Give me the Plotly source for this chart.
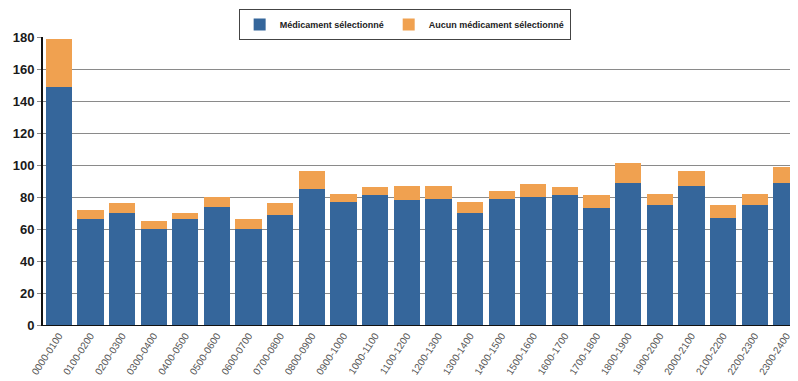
import plotly.graph_objects as go

HOURS = ["0000-0100", "0100-0200", "0200-0300", "0300-0400", "0400-0500", "0500-0600",
         "0600-0700", "0700-0800", "0800-0900", "0900-1000", "1000-1100", "1100-1200",
         "1200-1300", "1300-1400", "1400-1500", "1500-1600", "1600-1700", "1700-1800",
         "1800-1900", "1900-2000", "2000-2100", "2100-2200", "2200-2300", "2300-2400"]

MEDICAMENT = [149, 66, 70, 60, 66, 74, 60, 69, 85, 77, 81, 78,
              79, 70, 79, 80, 81, 73, 89, 75, 87, 67, 75, 89]
AUCUN = [30, 6, 6, 5, 4, 6, 6, 7, 11, 5, 5, 9,
         8, 7, 5, 8, 5, 8, 12, 7, 9, 8, 7, 10]

BLUE = "#35669b"
ORANGE = "#f0a150"

fig = go.Figure()
fig.add_trace(go.Bar(x=HOURS, y=MEDICAMENT, name="Médicament sélectionné",
                     marker=dict(color=BLUE, line=dict(width=0))))
fig.add_trace(go.Bar(x=HOURS, y=AUCUN, name="Aucun médicament sélectionné",
                     marker=dict(color=ORANGE, line=dict(width=0))))

# page body has an 8px margin, so the figure is 8px smaller each way
fig.update_layout(
    barmode="stack",
    bargap=0.17,
    width=790, height=373,
    margin=dict(l=35, r=0, t=29, b=56, autoexpand=False),
    plot_bgcolor="white",
    paper_bgcolor="white",
    font=dict(family="Liberation Sans, Arial, sans-serif", color="#222"),
    legend=dict(orientation="h", traceorder="normal",
                x=0.479, xanchor="center", y=1.097, yanchor="top",
                bordercolor="#444", borderwidth=1,
                font=dict(size=9, color="#222", family="Liberation Sans", weight="bold"),
                itemwidth=30, tracegroupgap=0),
)
# last slot is cut by the right edge, as in the source picture
fig.update_yaxes(range=[0, 180], dtick=20, showgrid=True, gridcolor="#8a8a8a", gridwidth=1.2,
                 showline=True, linecolor="#111", linewidth=2,
                 ticks="outside", ticklen=4, tickcolor="#8a8a8a",
                 tickfont=dict(size=13, color="#1a1a1a", weight="bold"),
                 zeroline=False, automargin=False)
fig.update_xaxes(range=[-0.5, 23.37], showline=True, linecolor="#111", linewidth=1,
                 tickangle=-57, tickfont=dict(size=10, color="#555"),
                 ticks="", automargin=False)

fig.write_html("out.html")
